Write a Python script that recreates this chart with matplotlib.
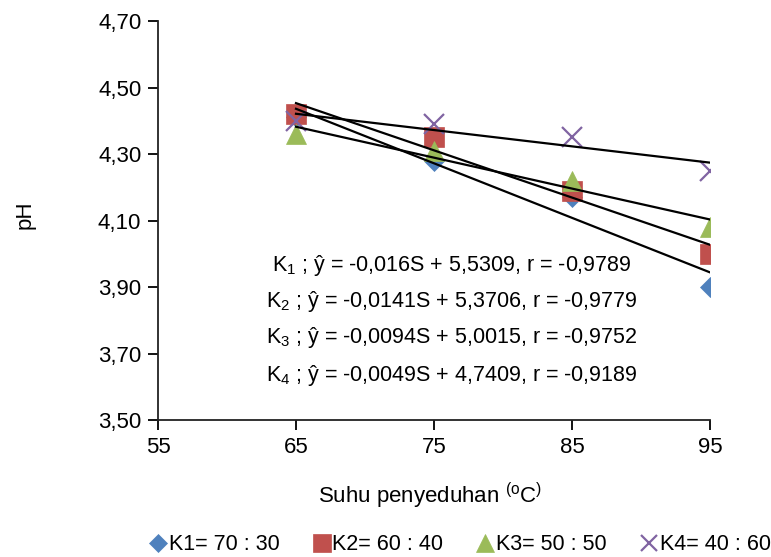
import numpy as np
import matplotlib
matplotlib.use("Agg")
import matplotlib.pyplot as plt

fam = "Liberation Sans"
plt.rcParams['font.family'] = [fam, 'DejaVu Sans']
plt.rcParams['mathtext.fontset'] = 'custom'
plt.rcParams['mathtext.rm'] = fam
plt.rcParams['mathtext.it'] = fam

# data
suhu = [65, 75, 85, 95]
k1 = [4.41, 4.28, 4.17, 3.90]
k2 = [4.42, 4.35, 4.19, 4.00]
k3 = [4.36, 4.31, 4.22, 4.08]
k4 = [4.40, 4.39, 4.35, 4.25]
labels = ["K1= 70 : 30", "K2= 60 : 40", "K3= 50 : 50", "K4= 40 : 60"]
equations = [
    r"K$_1$ ; ŷ = -0,016S + 5,5309, r = -0,9789",
    r"K$_2$ ; ŷ = -0,0141S + 5,3706, r = -0,9779",
    r"K$_3$ ; ŷ = -0,0094S + 5,0015, r = -0,9752",
    r"K$_4$ ; ŷ = -0,0049S + 4,7409, r = -0,9189",
]
yticks = [3.50, 3.70, 3.90, 4.10, 4.30, 4.50, 4.70]
xticks = [55, 65, 75, 85, 95]

colors = ["#4F81BD", "#C0504D", "#9BBB59", "#8064A2"]
markers = ["D", "s", "^", "x"]
msizes = [10.5, 14.5, 15, 14]

fig = plt.figure(figsize=(7.71, 5.57), dpi=100)
ax = fig.add_axes([158/771, 1-420/557, (710-158)/771, (420-21)/557])

x = np.array(suhu, dtype=float)
handles = []
for ys, c, m, ms, lab in zip([k1, k2, k3, k4], colors, markers, msizes, labels):
    if m == "x":
        h, = ax.plot(x, ys, linestyle="none", marker=m, markersize=ms,
                     markeredgecolor=c, markeredgewidth=1.6, label=lab, zorder=3)
    else:
        h, = ax.plot(x, ys, linestyle="none", marker=m, markersize=ms,
                     markerfacecolor=c, markeredgecolor=c, markeredgewidth=0.5,
                     label=lab, zorder=3)
    handles.append(h)
for ys in [k1, k2, k3, k4]:
    b, a = np.polyfit(x, ys, 1)
    xx = np.array([x[0], x[-1]])
    ax.plot(xx, a + b*xx, color="black", linewidth=1.6, zorder=4)

ax.set_xlim(55, 95)
ax.set_ylim(3.50, 4.70)
ax.set_xticks(xticks)
ax.set_yticks(yticks)
ax.set_xticklabels([str(t) for t in xticks])
ax.set_yticklabels([f"{t:.2f}".replace(".", ",") for t in yticks])
ax.tick_params(axis='both', direction='out', length=7, width=1.3, labelsize=16, pad=5, colors='black')
for s in ["top", "right"]:
    ax.spines[s].set_visible(False)
for s in ["left", "bottom"]:
    ax.spines[s].set_linewidth(1.3)
    ax.spines[s].set_color("#222222")

ys_eq = [265, 301, 338, 375]
for eq, yp in zip(equations, ys_eq):
    fig.text(452/771, 1-yp/557, eq, ha="center", va="center", fontsize=15.5)

fig.text(430/771, 1-496/557, r"Suhu penyeduhan $^{(\mathrm{o}}\mathrm{C}^{)}$", ha="center", va="center", fontsize=16)
fig.text(25/771, 1-215/557, "pH", ha="center", va="center", rotation=90, fontsize=16)

fig.legend(handles=handles, labels=labels, loc="center", bbox_to_anchor=(459/771, 1-545/557),
           ncol=4, frameon=False, fontsize=15.5, handletextpad=0.0, columnspacing=1.45,
           handlelength=1.0, markerscale=0.85)

fig.savefig("out.png", dpi=100)
